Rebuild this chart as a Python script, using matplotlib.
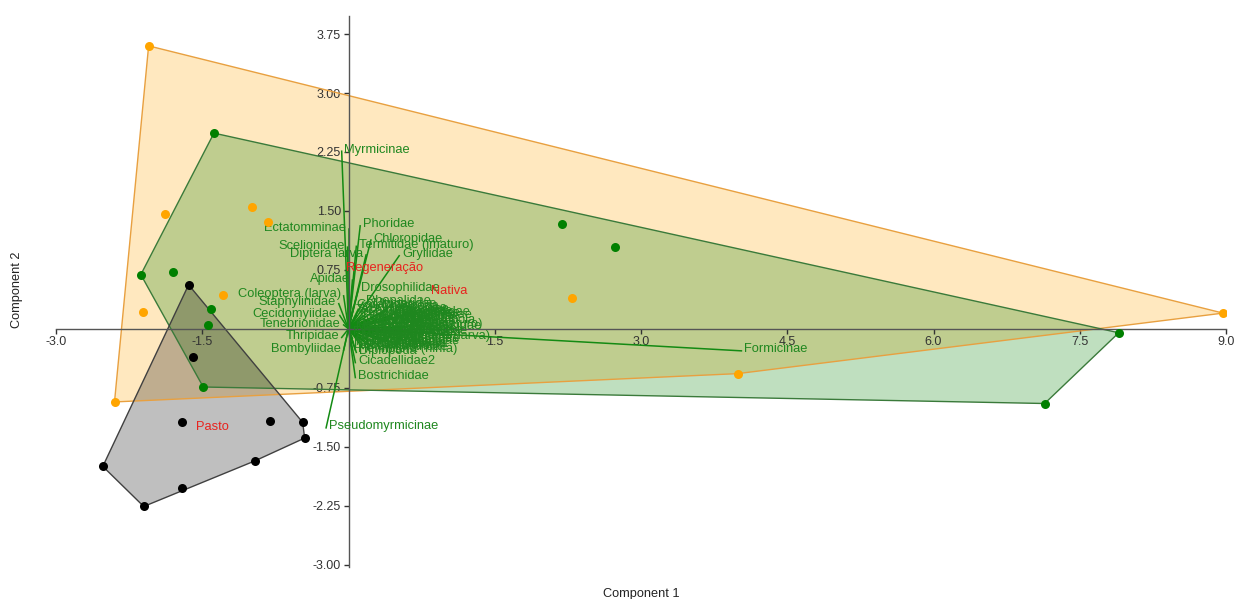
import matplotlib
matplotlib.use("Agg")
import matplotlib.pyplot as plt
import numpy as np

plt.rcParams["font.family"] = ["Liberation Sans", "DejaVu Sans"]
plt.rcParams["axes.unicode_minus"] = False

LABEL_SIZE = 9.3
TICK_SIZE = 9
TITLE_SIZE = 9.2

# --- sample scores (Component 1, Component 2) per group ---------------------
group_names = ["Regeneração", "Nativa", "Pasto"]

regen_x = [-2.05, -1.88, -0.99, -0.83, -1.29, -2.11, -2.40, 2.29, 3.99, 8.97]
regen_y = [3.60, 1.46, 1.55, 1.36, 0.43, 0.22, -0.93, 0.39, -0.57, 0.20]

nativa_x = [-1.38, -2.13, -1.80, -1.41, -1.44, -1.49, 2.19, 2.73, 7.90, 7.14]
nativa_y = [2.49, 0.69, 0.72, 0.25, 0.05, -0.74, 1.33, 1.04, -0.05, -0.95]

pasto_x = [-1.64, -1.59, -1.71, -0.81, -0.47, -0.45, -2.52, -0.96, -1.71, -2.10]
pasto_y = [0.56, -0.36, -1.19, -1.17, -1.19, -1.39, -1.75, -1.68, -2.02, -2.26]

# --- variable loadings (biplot vectors) -------------------------------------
var_names = [
    "Myrmicinae", "Phoridae", "Chloropidae", "Termitidae (imaturo)", "Gryllidae",
    "Drosophilidae", "Rhopalidae", "Cicadellidae2", "Bostrichidae", "Formicinae",
    "Pseudomyrmicinae", "Ectatomminae", "Scelionidae", "Diptera larva", "Apidae",
    "Coleoptera (larva)", "Staphylinidae", "Cecidomyiidae", "Tenebrionidae",
    "Thripidae", "Bombyliidae",
    "Carabidae", "Chrysomelidae", "Cicadellidae", "Lygaeidae", "Curculionidae",
    "Scarabaeidae", "Nitidulidae", "Elateridae", "Blattodea (imaturo)", "Aphididae",
    "Delphacidae", "Membracidae", "Miridae", "Reduviidae", "Sciaridae", "Muscidae",
    "Lepidoptera (larva)", "Dolichopodidae", "Ichneumonidae", "Braconidae",
    "Eulophidae", "Hemiptera (ninfa)", "Platygastridae", "Araneae", "Collembola",
    "Acari", "Psocoptera", "Dolichoderinae", "Mymaridae",
    "Tachinidae", "Sarcophagidae", "Chalcididae", "Encyrtidae", "Diapriidae",
    "Ceratopogonidae", "Chironomidae", "Psychodidae", "Tephritidae", "Lonchaeidae",
    "Cydnidae", "Pentatomidae", "Coreidae", "Tingidae", "Psyllidae",
    "Aleyrodidae", "Cixiidae", "Ponerinae", "Dorylinae", "Isopoda",
    "Opiliones", "Diplopoda", "Chilopoda", "Vespidae", "Figitidae",
]
var_x = [
    -0.07, 0.12, 0.23, 0.08, 0.52,
    0.10, 0.15, 0.07, 0.07, 4.03,
    -0.23, 0.00, -0.01, 0.18, 0.04,
    -0.05, -0.10, -0.09, -0.05,
    -0.07, -0.05,
    0.05, 0.10, 0.50, 0.40, 0.08,
    0.30, 0.45, 0.15, 0.22, 0.40,
    0.60, 0.05, 0.70, 0.25, 0.50, 0.10,
    0.32, 0.20, 0.05, 0.30,
    0.45, 0.07, 0.15, 0.55, 0.62,
    0.75, 0.12, 0.03, 0.22,
    0.04, 0.18, 0.35, 0.27, 0.12,
    0.06, 0.42, 0.33, 0.09, 0.24,
    0.16, 0.38, 0.28, 0.52, 0.11,
    0.04, 0.36, 0.20, 0.14, 0.46,
    0.26, 0.08, 0.31, 0.58, 0.02,
]
var_y = [
    2.26, 1.31, 1.13, 1.05, 0.93,
    0.50, 0.34, -0.43, -0.62, -0.28,
    -1.26, 1.27, 1.04, 0.94, 0.62,
    0.42, 0.32, 0.17, 0.05,
    -0.11, -0.27,
    0.28, 0.25, 0.20, 0.24, 0.17,
    0.15, 0.12, 0.10, 0.05, 0.06,
    0.02, 0.01, -0.03, -0.05, -0.07, -0.10,
    -0.11, -0.15, -0.18, -0.20,
    -0.17, -0.27, -0.25, -0.13, 0.09,
    0.04, -0.03, -0.22, 0.30,
    0.22, 0.19, 0.21, 0.10, 0.13,
    0.07, 0.16, -0.02, 0.03, -0.09,
    -0.06, -0.04, 0.08, -0.01, -0.14,
    -0.12, -0.16, -0.21, -0.19, 0.14,
    -0.24, -0.30, 0.27, 0.18, -0.06,
]
# which side of the vector tip the label sits on
var_side = ["left"] * 11 + ["right"] * 10 + ["left"] * 54

x_ticks = [-3.0, -1.5, 1.5, 3.0, 4.5, 6.0, 7.5, 9.0]
y_ticks = [3.75, 3.00, 2.25, 1.50, 0.75, -0.75, -1.50, -2.25, -3.00]


def convex_hull(xs, ys):
    pts = sorted(set(zip(xs, ys)))

    def cross(o, a, b):
        return (a[0] - o[0]) * (b[1] - o[1]) - (a[1] - o[1]) * (b[0] - o[0])

    lower, upper = [], []
    for p in pts:
        while len(lower) >= 2 and cross(lower[-2], lower[-1], p) <= 0:
            lower.pop()
        lower.append(p)
    for p in reversed(pts):
        while len(upper) >= 2 and cross(upper[-2], upper[-1], p) <= 0:
            upper.pop()
        upper.append(p)
    return np.array(lower[:-1] + upper[:-1])


def main():
    fig = plt.figure(figsize=(12.4, 5.99), dpi=100)
    ax = fig.add_axes([56 / 1240, 1 - 567 / 599, (1226 - 56) / 1240, (567 - 16) / 599])
    ax.set_xlim(-3.0, 9.0)
    ax.set_ylim(-3.03, 3.98)

    groups = [
        (regen_x, regen_y, "#ffa500", "#e8a040"),
        (nativa_x, nativa_y, "#008000", "#3a7a3a"),
        (pasto_x, pasto_y, "#000000", "#404040"),
    ]
    for gx, gy, col, edge in groups:
        hull = convex_hull(gx, gy)
        ax.fill(hull[:, 0], hull[:, 1], facecolor=col, alpha=0.25, zorder=1)
        ax.fill(hull[:, 0], hull[:, 1], facecolor="none", edgecolor=edge,
                linewidth=1.0, zorder=2)

    # biplot vectors
    for name, vx, vy, side in zip(var_names, var_x, var_y, var_side):
        ax.plot([0, vx], [0, vy], color="#138a13", linewidth=1.1, zorder=3)
        dx = 2 if side == "left" else -2
        ax.annotate(name, xy=(vx, vy), xytext=(dx, 1), textcoords="offset points",
                    ha=side, va="center", fontsize=LABEL_SIZE, color="#1f871f",
                    zorder=4)

    for gx, gy, col, edge in groups:
        ax.plot(gx, gy, "o", color=col, markersize=6.5, markeredgewidth=0, zorder=5)

    for name, (gx, gy, _, _) in zip(group_names, groups):
        ax.text(np.mean(gx), np.mean(gy), name, ha="center", va="center",
                fontsize=LABEL_SIZE, color="#e8231e", zorder=6)

    # axes crossing at the origin
    for side in ("top", "right"):
        ax.spines[side].set_visible(False)
    ax.spines["left"].set_position(("data", 0))
    ax.spines["bottom"].set_position(("data", 0))
    for side in ("left", "bottom"):
        ax.spines[side].set_color("#555555")
        ax.spines[side].set_linewidth(1.0)
        ax.spines[side].set_zorder(3.5)

    ax.set_xticks(x_ticks)
    ax.set_xticklabels([f"{t:.1f}" for t in x_ticks])
    ax.set_yticks(y_ticks)
    ax.set_yticklabels([f"{t:.2f}" for t in y_ticks])
    ax.tick_params(axis="both", labelsize=TICK_SIZE, colors="#333333",
                   direction="out", length=3.5, width=1.0, pad=2)
    ax.patch.set_visible(False)

    fig.text((56 + 1226) / 2 / 1240, 1 - 594 / 599, "Component 1", ha="center",
             va="center", fontsize=TITLE_SIZE, color="#222222")
    fig.text(17 / 1240, 1 - 290 / 599, "Component 2", ha="center", va="center",
             rotation=90, fontsize=TITLE_SIZE, color="#222222")

    fig.savefig("out.png", dpi=100)
    plt.close(fig)


if __name__ == "__main__":
    main()
